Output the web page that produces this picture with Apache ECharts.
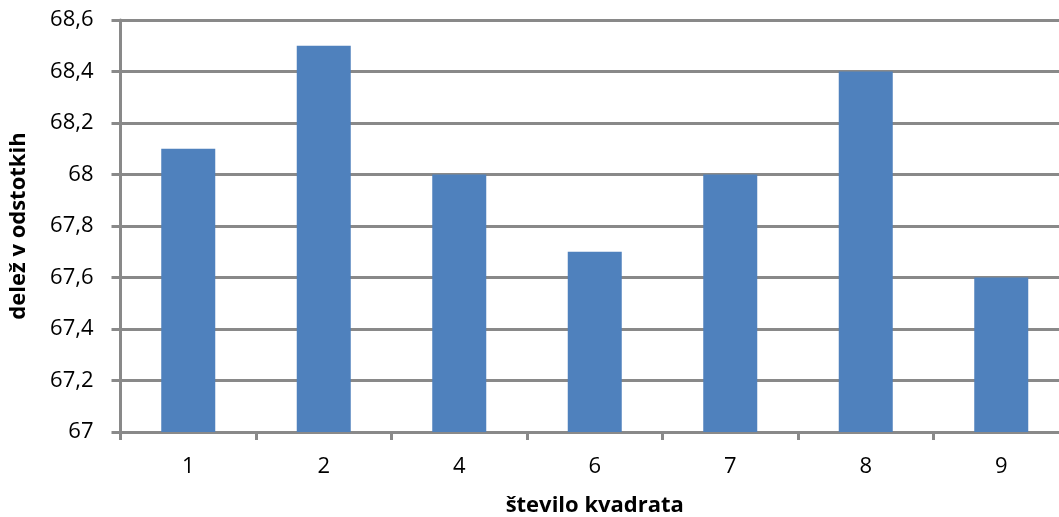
<!DOCTYPE html>
<html>
<head>
<meta charset="utf-8">
<script src="https://cdn.jsdelivr.net/npm/echarts@6/dist/echarts.min.js"></script>
<style>
  html, body { margin: 0; padding: 0; background: #ffffff; }
  #chart { width: 1059px; height: 517px; }
</style>
</head>
<body>
<div id="chart"></div>
<script>
// Square numbers and share (in percent) per square
const categories = ['1', '2', '4', '6', '7', '8', '9'];
const shares = [68.1, 68.5, 68.0, 67.7, 68.0, 68.4, 67.6];

// Value axis range
const yMin = 67;
const yMax = 68.6;
const yStep = 0.2;

const xTitle = 'število kvadrata';
const yTitle = 'delež v odstotkih';

const gridColor = '#898989';
const textFont = '"Open Sans", "Noto Sans", sans-serif';

function commaDecimal(v) {
  const r = Math.round(v * 10) / 10;
  return String(r).replace('.', ',');
}

const chart = echarts.init(document.getElementById('chart'), null, { renderer: 'canvas' });

chart.setOption({
  animation: false,
  backgroundColor: '#ffffff',
  grid: { left: 120.5, right: -10, top: 20, bottom: 85, containLabel: false, outerBoundsMode: 'none' },
  xAxis: {
    type: 'category',
    data: categories,
    name: xTitle,
    nameLocation: 'middle',
    nameGap: 63,
    nameTextStyle: { fontFamily: textFont, fontWeight: 'bold', fontSize: 22, color: '#000000' },
    axisLine: { lineStyle: { color: gridColor, width: 3 } },
    axisTick: { show: true, interval: 0, length: 8, lineStyle: { color: gridColor, width: 3 } },
    axisLabel: { fontFamily: textFont, fontSize: 22, color: '#000000', margin: 24 }
  },
  yAxis: {
    type: 'value',
    min: yMin,
    max: yMax,
    interval: yStep,
    name: yTitle,
    nameLocation: 'middle',
    nameGap: 91,
    nameRotate: 90,
    nameTextStyle: { fontFamily: textFont, fontWeight: 'bold', fontSize: 22, color: '#000000' },
    axisLine: { show: true, lineStyle: { color: gridColor, width: 3 } },
    axisTick: { show: true, length: 9, lineStyle: { color: gridColor, width: 3 } },
    axisLabel: { fontFamily: textFont, fontSize: 22, color: '#000000', margin: 27, formatter: commaDecimal },
    splitLine: { show: true, lineStyle: { color: gridColor, width: 3 } }
  },
  series: [{
    type: 'bar',
    data: shares,
    barWidth: 54,
    itemStyle: { color: '#4F81BD' }
  }]
});
</script>
</body>
</html>
